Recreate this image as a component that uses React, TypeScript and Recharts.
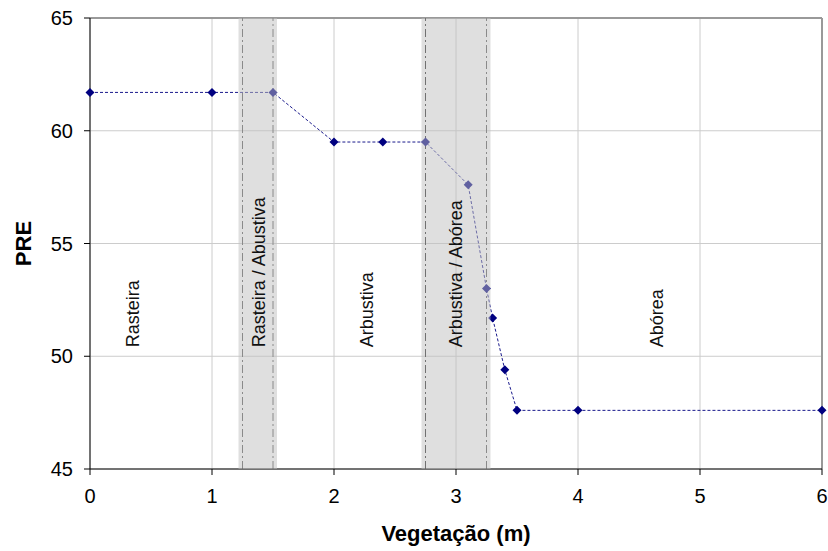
import React from "react";
import {
  LineChart,
  Line,
  XAxis,
  YAxis,
  CartesianGrid,
  ReferenceArea,
  ReferenceLine,
  ReferenceDot,
  Label,
} from "recharts";

const vegetation = [0, 1, 1.5, 2, 2.4, 2.75, 3.1, 3.25, 3.3, 3.4, 3.5, 4, 6];
const preValues = [61.7, 61.7, 61.7, 59.5, 59.5, 59.5, 57.6, 53.0, 51.7, 49.4, 47.6, 47.6, 47.6];

const xTicks = [0, 1, 2, 3, 4, 5, 6];
const yTicks = [45, 50, 55, 60, 65];

const bandStart = [1.25, 2.75];
const bandEnd = [1.5, 3.25];

const regionNames = ["Rasteira", "Rasteira / Abustiva", "Arbustiva", "Arbustiva / Abórea", "Abórea"];
const regionX = [0.35, 1.385, 2.27, 3.0, 4.65];
const regionY = 50.4;

const FONT = "'Liberation Sans', Arial, sans-serif";

const data = vegetation.map((x, i) => ({ x, pre: preValues[i] }));

const Diamond = (props: any) => {
  const { cx, cy } = props;
  if (cx == null || cy == null) return null;
  const s = 4.5;
  return (
    <polygon
      points={`${cx},${cy - s} ${cx + s},${cy} ${cx},${cy + s} ${cx - s},${cy}`}
      fill="#000080"
    />
  );
};

// gray band drawn over the line, a bit wider so the edge points get shaded too
const Band = (props: any) => {
  const { x, y, width, height } = props;
  const pad = 4;
  return (
    <rect
      x={x - pad}
      y={y}
      width={width + pad * 2}
      height={height}
      fill="#c0c0c0"
      fillOpacity={0.5}
    />
  );
};

const RegionText = (text: string) => (props: any) => {
  const { cx, cy } = props;
  return (
    <text
      x={cx}
      y={cy}
      transform={`rotate(-90, ${cx}, ${cy})`}
      textAnchor="start"
      dominantBaseline="central"
      fontSize={18}
      fontFamily={FONT}
      fill="#111"
    >
      {text}
    </text>
  );
};

export default function App() {
  return (
    <div style={{ position: "absolute", left: 0, top: 0, background: "#fff" }}>
      <LineChart
        width={828}
        height={551}
        data={data}
        margin={{ top: 18, right: 6, left: 0, bottom: 0 }}
      >
        <CartesianGrid stroke="#cccccc" />
        <XAxis
          dataKey="x"
          type="number"
          domain={[0, 6]}
          ticks={xTicks}
          height={82}
          stroke="#000"
          tickSize={6}
          tickMargin={14}
          tick={{ fill: "#000", fontSize: 20, fontFamily: FONT }}
        >
          <Label
            content={({ viewBox }: any) => (
              <text
                x={viewBox.x + viewBox.width / 2}
                y={viewBox.y + viewBox.height - 10}
                textAnchor="middle"
                fontSize={22}
                fontWeight="bold"
                fontFamily={FONT}
                fill="#000"
              >
                Vegetação (m)
              </text>
            )}
          />
        </XAxis>
        <YAxis
          type="number"
          domain={[45, 65]}
          ticks={yTicks}
          width={90}
          stroke="#000"
          tickSize={6}
          tickMargin={11}
          tick={{ fill: "#000", fontSize: 20, fontFamily: FONT }}
        >
          <Label
            content={({ viewBox }: any) => {
              const x = viewBox.x + 23;
              const y = viewBox.y + viewBox.height / 2;
              return (
                <text
                  x={x}
                  y={y}
                  transform={`rotate(-90, ${x}, ${y})`}
                  textAnchor="middle"
                  dominantBaseline="central"
                  fontSize={22}
                  fontWeight="bold"
                  fontFamily={FONT}
                  fill="#000"
                >
                  PRE
                </text>
              );
            }}
          />
        </YAxis>
        <ReferenceLine y={65} stroke="#999" strokeWidth={2} />
        <ReferenceLine x={6} stroke="#999" strokeWidth={2} />
        {bandStart.map((s, i) => (
          <ReferenceLine
            key={`bs-${i}`}
            x={s}
            stroke={i === 1 ? "#222" : "#555"}
            strokeDasharray="8 3 2 3"
          />
        ))}
        {bandEnd.map((e, i) => (
          <ReferenceLine key={`be-${i}`} x={e} stroke="#555" strokeDasharray="8 3 2 3" />
        ))}
        <Line
          type="linear"
          dataKey="pre"
          stroke="#1a1a8c"
          strokeWidth={1}
          strokeDasharray="3 2"
          dot={<Diamond />}
          activeDot={false}
          isAnimationActive={false}
        />
        {bandStart.map((s, i) => (
          <ReferenceArea
            key={`band-${i}`}
            x1={s}
            x2={bandEnd[i]}
            y1={45}
            y2={65}
            shape={Band}
            {...({ zIndex: 1300 } as any)}
          />
        ))}
        {regionNames.map((name, i) => (
          <ReferenceDot
            key={`rt-${i}`}
            x={regionX[i]}
            y={regionY}
            r={0}
            shape={RegionText(name)}
            {...({ zIndex: 1400 } as any)}
          />
        ))}
      </LineChart>
    </div>
  );
}
